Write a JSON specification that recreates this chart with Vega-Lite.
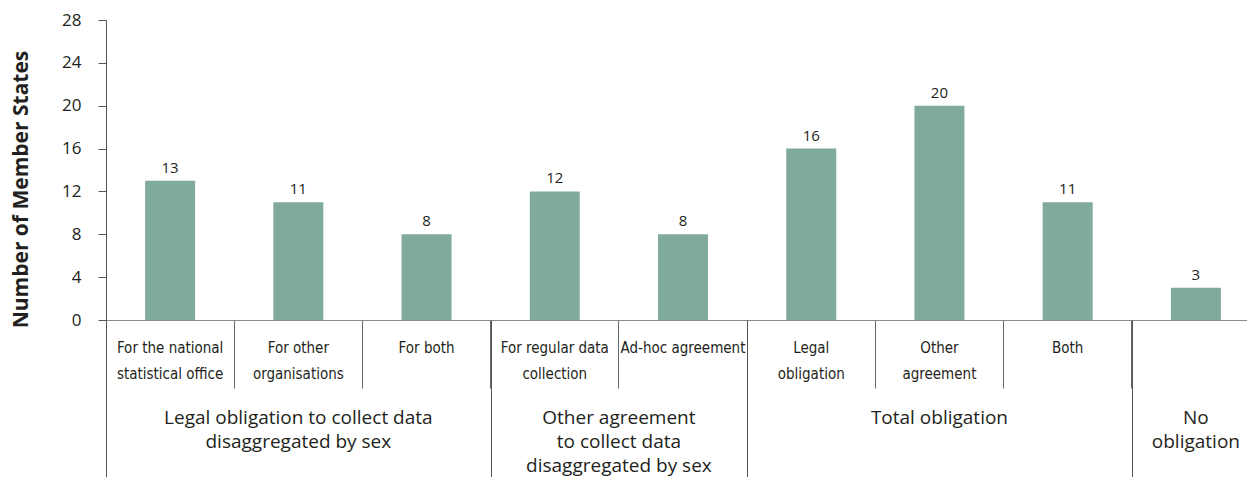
{
  "$schema": "https://vega.github.io/schema/vega-lite/v6.json",
  "width": 1154,
  "height": 300,
  "autosize": "none",
  "padding": {"left": 106, "top": 20, "right": 0, "bottom": 157},
  "background": "white",
  "config": {"view": {"stroke": null}, "axis": {"grid": false}},
  "datasets": {
    "bars": [
      {"sub": "For the national|statistical office", "group": "Legal obligation to collect data disaggregated by sex", "value": 13},
      {"sub": "For other|organisations", "group": "Legal obligation to collect data disaggregated by sex", "value": 11},
      {"sub": "For both", "group": "Legal obligation to collect data disaggregated by sex", "value": 8},
      {"sub": "For regular data|collection", "group": "Other agreement to collect data disaggregated by sex", "value": 12},
      {"sub": "Ad-hoc agreement", "group": "Other agreement to collect data disaggregated by sex", "value": 8},
      {"sub": "Legal|obligation", "group": "Total obligation", "value": 16},
      {"sub": "Other|agreement", "group": "Total obligation", "value": 20},
      {"sub": "Both", "group": "Total obligation", "value": 11},
      {"sub": "", "group": "No obligation", "value": 3}
    ],
    "groups": [
      {"group": "Legal obligation to collect data|disaggregated by sex", "center": 1.5},
      {"group": "Other agreement|to collect data|disaggregated by sex", "center": 4},
      {"group": "Total obligation", "center": 6.5},
      {"group": "No|obligation", "center": 8.5}
    ]
  },
  "layer": [
    {
      "data": {"name": "bars"},
      "layer": [
        {
          "mark": {"type": "bar", "color": "#80ab9c", "width": 50},
          "encoding": {
            "x": {
              "field": "sub", "type": "nominal", "sort": null,
              "scale": {"paddingInner": 0, "paddingOuter": 0},
              "axis": {
                "orient": "bottom",
                "title": null, "domainColor": "#8a8a8a", "bandPosition": 0,
                "tickSize": 68, "tickColor": "#666666", "labelPadding": -48,
                "labelExpr": "split(datum.label, '|')",
                "labelFont": "DejaVu Sans Condensed, Roboto, sans-serif", "labelFontSize": 15,
                "labelFontStretch": "condensed",
                "labelLineHeight": 26, "labelAngle": 0, "labelBaseline": "top",
                "labelColor": "#231f20", "labelLimit": 0
              }
            },
            "y": {
              "field": "value", "type": "quantitative",
              "scale": {"domain": [0, 28]},
              "axis": {
                "title": "Number of Member States",
                "values": [0, 4, 8, 12, 16, 20, 24, 28],
                "tickSize": 8, "labelPadding": 17,
                "labelFont": "Open Sans", "labelFontSize": 17, "labelColor": "#231f20",
                "titleFont": "Open Sans", "titleFontSize": 21, "titleFontWeight": "bold",
                "titleColor": "#231f20", "titleX": -79, "titleY": 169,
                "titleAlign": "center", "titleAngle": -90,
                "titleBaseline": "alphabetic",
                "domainColor": "#555555", "tickColor": "#555555"
              }
            }
          }
        },
        {
          "mark": {"type": "text", "baseline": "bottom", "dy": -5, "fontSize": 15, "font": "Open Sans", "color": "#231f20"},
          "encoding": {
            "x": {"field": "sub", "type": "nominal", "sort": null},
            "y": {"field": "value", "type": "quantitative"},
            "text": {"field": "value", "type": "quantitative"}
          }
        }
      ]
    },
    {
      "data": {"name": "groups"},
      "mark": {"type": "text", "lineBreak": "|", "baseline": "top", "fontSize": 19, "font": "Open Sans", "lineHeight": 24, "color": "#231f20"},
      "encoding": {
        "x": {
          "field": "center", "type": "quantitative",
          "scale": {"domain": [0, 9], "nice": false, "zero": true},
          "axis": {
            "orient": "bottom",
            "values": [0, 3, 5, 8], "tickSize": 157, "labels": false,
            "domain": false, "title": null, "tickColor": "#555555"
          }
        },
        "y": {"datum": -8.3, "title": "Number of Member States"},
        "text": {"field": "group"}
      }
    }
  ],
  "resolve": {"scale": {"x": "independent"}, "axis": {"x": "independent"}}
}
